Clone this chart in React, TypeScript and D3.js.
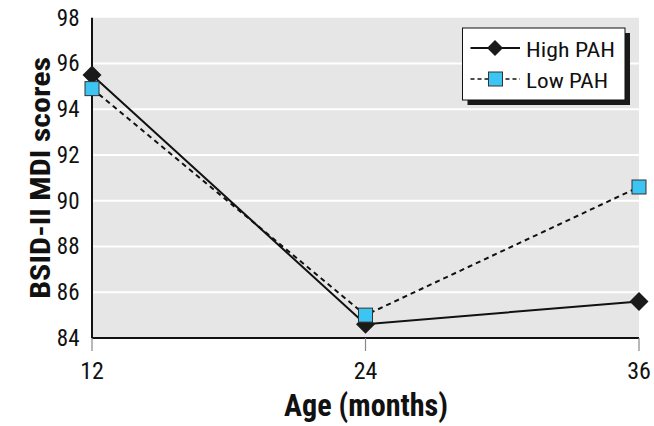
import React from "react";
import * as d3 from "d3";

const ages = [12, 24, 36];
const highPAH = [95.5, 84.6, 85.6];
const lowPAH = [94.9, 85.0, 90.6];
const yTicks = [84, 86, 88, 90, 92, 94, 96, 98];
const xTicks = [12, 24, 36];
const seriesNames = ["High PAH", "Low PAH"];

const FONT = "'Roboto Condensed', 'Liberation Sans Narrow', sans-serif";

export default function App() {
  const W = 654, H = 426;
  const left = 92, right = 639, top = 17.7, bottom = 338;
  const x = d3.scaleLinear().domain([12, 36]).range([left, right]);
  const y = d3.scaleLinear().domain([84, 98]).range([bottom, top]);
  const line = d3.line<number>().x((_, i) => x(ages[i])).y((d) => y(d));
  const diamond = (cx: number, cy: number, r: number) =>
    `M${cx},${cy - r}L${cx + r},${cy}L${cx},${cy + r}L${cx - r},${cy}Z`;

  const lx = 462.5, ly = 28, lw = 162.5, lh = 72;
  return (
    <svg width={W} height={H} style={{ position: "absolute", left: 0, top: 0, background: "#fff" }}>
      <rect x={left} y={top} width={right - left} height={bottom - top} fill="#e6e6e6" />
      {yTicks.filter((t) => t > 84 && t < 98).map((t) => (
        <line key={t} x1={left} x2={right} y1={y(t)} y2={y(t)} stroke="#fff" strokeWidth={2} />
      ))}
      {/* axes */}
      <line x1={left} x2={left} y1={top} y2={bottom} stroke="#111" strokeWidth={2} />
      <line x1={left} x2={right} y1={bottom} y2={bottom} stroke="#111" strokeWidth={2} />
      {xTicks.map((t) => (
        <line key={t} x1={x(t)} x2={x(t)} y1={bottom} y2={bottom + 13} stroke="#888" strokeWidth={1.2} />
      ))}
      {yTicks.map((t) => (
        <text key={t} x={79.5} y={y(t) + 8} textAnchor="end" fontFamily={FONT} fontSize={23} fill="#111">
          {t}
        </text>
      ))}
      {xTicks.map((t) => (
        <text key={t} x={x(t)} y={379} textAnchor="middle" fontFamily={FONT} fontSize={24} fill="#111">
          {t}
        </text>
      ))}
      <text x={284} y={416} fontFamily={FONT} fontWeight="bold" fontSize={32} fill="#111" textLength={164} lengthAdjust="spacingAndGlyphs">
        Age (months)
      </text>
      <text
        transform={`translate(50,${(top + bottom) / 2 + 121}) rotate(-90)`}
        fontFamily={FONT}
        fontWeight="bold"
        fontSize={28}
        fill="#111"
        textLength={242}
        lengthAdjust="spacingAndGlyphs"
      >
        BSID-II MDI scores
      </text>
      {/* lines */}
      <path d={line(lowPAH) || ""} fill="none" stroke="#111" strokeWidth={2} strokeDasharray="5,4" />
      <path d={line(highPAH) || ""} fill="none" stroke="#111" strokeWidth={2} />
      {highPAH.map((v, i) => (
        <path key={"h" + i} d={diamond(x(ages[i]), y(v), 9.5)} fill="#1a1a1a" />
      ))}
      {lowPAH.map((v, i) => (
        <rect key={"l" + i} x={x(ages[i]) - 7} y={y(v) - 7} width={14} height={14} fill="#3cc4f2" stroke="#333" strokeWidth={1} />
      ))}
      {/* legend */}
      <rect x={lx + 5} y={ly + 5} width={lw} height={lh} fill="#1a1a1a" />
      <rect x={lx} y={ly} width={lw} height={lh} fill="#fff" stroke="#111" strokeWidth={1} />
      <line x1={lx + 8} x2={lx + 57.5} y1={ly + 20} y2={ly + 20} stroke="#111" strokeWidth={2} />
      <path d={diamond(lx + 32.5, ly + 20, 8)} fill="#1a1a1a" />
      <line x1={lx + 8} x2={lx + 57.5} y1={ly + 51} y2={ly + 51} stroke="#111" strokeWidth={1.5} strokeDasharray="4,3" />
      <rect x={lx + 26} y={ly + 44} width={14} height={14} fill="#3cc4f2" stroke="#333" strokeWidth={1} />
      <text x={lx + 63.5} y={ly + 29.3} fontFamily={FONT} fontSize={21} fill="#111" textLength={89} lengthAdjust="spacingAndGlyphs">
        {seriesNames[0]}
      </text>
      <text x={lx + 63.5} y={ly + 60.3} fontFamily={FONT} fontSize={21} fill="#111" textLength={82} lengthAdjust="spacingAndGlyphs">
        {seriesNames[1]}
      </text>
    </svg>
  );
}
